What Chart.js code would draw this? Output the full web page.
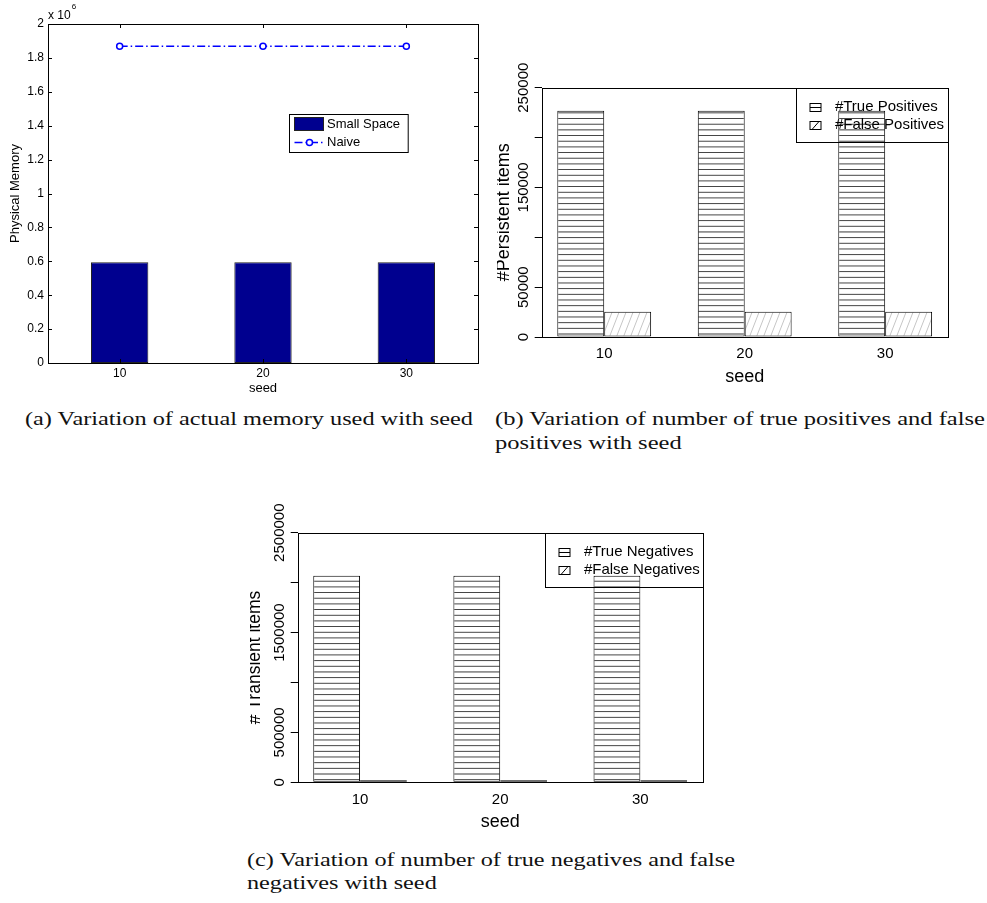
<!DOCTYPE html>
<html>
<head>
<meta charset="utf-8">
<script src="https://cdn.jsdelivr.net/npm/chart.js@4.4.1/dist/chart.umd.min.js"></script>
<style>
  body { margin: 0; background: #fff; width: 987px; height: 903px; position: relative; overflow: hidden; }
  canvas { position: absolute; }
  .cap { position: absolute; font-family: "Liberation Serif", serif; font-size: 18px; line-height: 18px; color: #111; white-space: nowrap; transform-origin: 0 0; }
</style>
</head>
<body>
<canvas id="chartA" width="490" height="400" style="left:0;top:0"></canvas>
<canvas id="chartB" width="490" height="340" style="left:497px;top:50px"></canvas>
<canvas id="chartC" width="470" height="345" style="left:250px;top:490px"></canvas>

<div class="cap" data-w="448" id="capA" style="left:25px;top:410px">(a) Variation of actual memory used with seed</div>
<div class="cap" data-w="490" id="capB" style="left:495px;top:410px">(b) Variation of number of true positives and false</div>
<div class="cap" data-follow="capB" style="left:495px;top:434px">positives with seed</div>
<div class="cap" data-w="488" id="capC" style="left:247px;top:851px">(c) Variation of number of true negatives and false</div>
<div class="cap" data-follow="capC" style="left:247px;top:874px">negatives with seed</div>

<script>
const seeds = [10, 20, 30];

// (a) physical memory
const memSmallSpace = [595000, 595000, 595000];
const memNaive = [1868000, 1868000, 1868000];

// (b) persistent items
const truePositives = [227000, 227000, 227000];
const falsePositives = [25400, 25400, 25400];
const persistentTickLabels = [0, 50000, 150000, 250000];

// (c) transient items
const trueNegatives = [2070000, 2070000, 2070000];
const falseNegatives = [7500, 7500, 7500];
const transientTickLabels = [0, 500000, 1500000, 2500000];

const NAVY = '#00008f';
const SANS = '"Liberation Sans", Arial, sans-serif';

Chart.defaults.font.family = SANS;
Chart.defaults.color = '#000';

const toPoints = (xs, ys) => xs.map((x, i) => ({ x, y: ys[i] }));

function makeTile(w, h, draw, scaleY) {
  const c = document.createElement('canvas');
  c.width = w; c.height = h;
  const g = c.getContext('2d');
  g.fillStyle = '#fff';
  g.fillRect(0, 0, w, h);
  draw(g);
  const p = g.createPattern(c, 'repeat');
  if (scaleY && p.setTransform) p.setTransform(new DOMMatrix().scale(1, scaleY));
  return p;
}

// horizontal lines about 5.7px apart
const horizHatch = makeTile(6, 6, g => {
  g.fillStyle = '#3a3a3a';
  g.fillRect(0, 0, 6, 1);
}, 0.945);

const diagHatch = makeTile(7, 18, g => {
  g.strokeStyle = '#c6c6c6';
  g.lineWidth = 1;
  g.beginPath();
  for (let k = -1; k <= 1; k++) { g.moveTo(k * 7, 18); g.lineTo((k + 1) * 7, 0); }
  g.stroke();
});

// box around the plot area
const plotBox = {
  id: 'plotBox',
  afterDatasetsDraw(chart) {
    const { ctx, chartArea: a } = chart;
    ctx.save();
    ctx.strokeStyle = '#000';
    ctx.lineWidth = 1;
    const l = Math.round(a.left) + 0.5, t = Math.round(a.top) + 0.5;
    ctx.strokeRect(l, t, Math.round(a.right) - Math.round(a.left), Math.round(a.bottom) - Math.round(a.top));
    ctx.restore();
  }
};

// matlab style ticks pointing inwards on all four sides
const inwardTicks = {
  id: 'inwardTicks',
  afterDatasetsDraw(chart, args, o) {
    const { ctx, chartArea: a, scales: { x, y } } = chart;
    const len = o.length;
    ctx.save();
    ctx.strokeStyle = '#000';
    ctx.lineWidth = 1;
    ctx.beginPath();
    x.ticks.forEach(t => {
      const px = Math.round(x.getPixelForValue(t.value)) + 0.5;
      ctx.moveTo(px, a.top); ctx.lineTo(px, a.top + len);
      ctx.moveTo(px, a.bottom); ctx.lineTo(px, a.bottom - len);
    });
    y.ticks.forEach(t => {
      const py = Math.round(y.getPixelForValue(t.value)) + 0.5;
      ctx.moveTo(a.left, py); ctx.lineTo(a.left + len, py);
      ctx.moveTo(a.right, py); ctx.lineTo(a.right - len, py);
    });
    ctx.stroke();
    ctx.restore();
  }
};

const expLabel = {
  id: 'expLabel',
  afterDraw(chart, args, o) {
    const { ctx, chartArea: a } = chart;
    ctx.save();
    ctx.fillStyle = '#000';
    ctx.textBaseline = 'middle';
    ctx.font = '12px ' + SANS;
    ctx.fillText(o.base, a.left, a.top - 8);
    const w = ctx.measureText(o.base).width;
    ctx.font = '8px ' + SANS;
    ctx.fillText(o.power, a.left + w + 1, a.top - 17);
    ctx.restore();
  }
};

const matlabLegend = {
  id: 'matlabLegend',
  afterDatasetsDraw(chart, args, o) {
    const { ctx, chartArea: a } = chart;
    const [bars, line] = chart.data.datasets;
    const left = Math.round(a.left + o.fx * (a.right - a.left)) + 0.5;
    const top = Math.round(a.top + o.fy * (a.bottom - a.top)) + 0.5;
    ctx.save();
    ctx.fillStyle = '#fff';
    ctx.fillRect(left, top, o.w, o.h);
    ctx.strokeStyle = '#000';
    ctx.lineWidth = 1;
    ctx.strokeRect(left, top, o.w, o.h);

    ctx.fillStyle = bars.backgroundColor;
    ctx.fillRect(left + 5, top + 3, 29, 13);
    ctx.strokeStyle = '#222';
    ctx.strokeRect(left + 5, top + 3, 29, 13);

    ctx.strokeStyle = line.borderColor;
    ctx.lineWidth = line.borderWidth;
    ctx.setLineDash(line.borderDash);
    ctx.beginPath();
    ctx.moveTo(left + 5, top + 28); ctx.lineTo(left + 34, top + 28);
    ctx.stroke();
    ctx.setLineDash([]);
    ctx.beginPath();
    ctx.arc(left + 20, top + 28, 3, 0, Math.PI * 2);
    ctx.fillStyle = '#fff';
    ctx.fill();
    ctx.stroke();

    ctx.fillStyle = '#000';
    ctx.font = '13px ' + SANS;
    ctx.textBaseline = 'middle';
    ctx.fillText(bars.label, left + 37.5, top + 10);
    ctx.fillText(line.label, left + 37.5, top + 28);
    ctx.restore();
  }
};

// R style: y tick labels turned 90 degrees
const rotatedYTicks = {
  id: 'rotatedYTicks',
  afterDraw(chart, args, o) {
    const { ctx, chartArea: a, scales: { y } } = chart;
    ctx.save();
    ctx.fillStyle = '#000';
    ctx.font = o.size + 'px ' + SANS;
    ctx.textAlign = 'center';
    ctx.textBaseline = 'middle';
    y.ticks.forEach(t => {
      if (!t.label) return;
      ctx.save();
      ctx.translate(a.left - o.offset, y.getPixelForValue(t.value));
      ctx.rotate(-Math.PI / 2);
      ctx.fillText(t.label, 0, 0);
      ctx.restore();
    });
    ctx.restore();
  }
};

// R style legend, no fill, top right corner of the plot
const rLegend = {
  id: 'rLegend',
  afterDatasetsDraw(chart, args, o) {
    const { ctx, chartArea: a } = chart;
    const sets = chart.data.datasets;
    ctx.save();
    ctx.font = '15px ' + SANS;
    const textW = Math.max(...sets.map(d => ctx.measureText(d.label).width));
    const w = Math.round(o.textX + textW + o.padRight);
    const left = Math.round(a.right) - w + 0.5, top = Math.round(a.top) + 0.5;
    ctx.strokeStyle = '#000';
    ctx.lineWidth = 1;
    ctx.strokeRect(left, top, w, o.height);
    sets.forEach((d, i) => {
      const cy = top + o.rows[i];
      const sx = left + o.symX, sy = Math.round(cy - 4) + 0.5;
      ctx.strokeStyle = '#000';
      ctx.strokeRect(sx, sy, 11, 8);
      ctx.beginPath();
      if (d.hatch === 'h') { ctx.moveTo(sx, sy + 4); ctx.lineTo(sx + 11, sy + 4); }
      else { ctx.moveTo(sx + 2, sy + 8); ctx.lineTo(sx + 9, sy); }
      ctx.stroke();
      ctx.fillStyle = '#000';
      ctx.textBaseline = 'middle';
      ctx.fillText(d.label, left + o.textX, cy);
    });
    ctx.restore();
  }
};

// (a)
new Chart(document.getElementById('chartA'), {
  type: 'bar',
  data: {
    datasets: [
      {
        type: 'bar', label: 'Small Space', data: toPoints(seeds, memSmallSpace),
        backgroundColor: NAVY, borderColor: '#222', borderWidth: 1, borderSkipped: false,
        categoryPercentage: 1, barPercentage: 0.4, order: 2
      },
      {
        type: 'line', label: 'Naive', data: toPoints(seeds, memNaive),
        borderColor: '#0000ff', borderWidth: 1.5, borderDash: [8, 3, 1.5, 3],
        pointRadius: 3, pointBorderWidth: 1.5, pointBackgroundColor: '#fff', pointBorderColor: '#0000ff',
        fill: false, tension: 0, order: 1
      }
    ]
  },
  options: {
    responsive: false,
    animation: false,
    layout: { padding: { left: 0, right: 12, top: 24, bottom: 0 } },
    scales: {
      x: {
        type: 'linear', min: 5, max: 35, offset: false,
        afterBuildTicks: s => { s.ticks = seeds.map(v => ({ value: v })); },
        afterFit: s => { s.height = 37; },
        grid: { display: false, drawTicks: false },
        border: { display: false },
        ticks: { padding: 3.8, font: { size: 12 }, color: '#000' },
        title: { display: true, text: 'seed', font: { size: 13 }, color: '#000', padding: { top: 0, bottom: 4.2 } }
      },
      y: {
        min: 0, max: 2000000,
        afterFit: s => { s.width = 48; },
        grid: { display: false, drawTicks: false },
        border: { display: false },
        ticks: { stepSize: 200000, padding: 4, font: { size: 12 }, color: '#000', callback: v => String(+(v / 1e6).toFixed(1)) },
        title: { display: true, text: 'Physical Memory', font: { size: 13 }, color: '#000', padding: { top: 7.2, bottom: 0 } }
      }
    },
    plugins: {
      legend: { display: false },
      tooltip: { enabled: false },
      inwardTicks: { length: 4 },
      expLabel: { base: 'x 10', power: '6' },
      matlabLegend: { fx: 0.5605, fy: 0.2664, w: 118.7, h: 38 }
    }
  },
  plugins: [plotBox, inwardTicks, matlabLegend, expLabel]
});

// (b) and (c) share the R barplot look
function makeRChart(id, cfg) {
  const barStyle = { borderColor: '#000', borderWidth: 1, borderSkipped: false, categoryPercentage: 0.668, barPercentage: 1, minBarLength: 2 };
  return new Chart(document.getElementById(id), {
    type: 'bar',
    data: {
      datasets: [
        { label: cfg.labels[0], data: toPoints(seeds, cfg.first), backgroundColor: horizHatch, hatch: 'h', ...barStyle },
        { label: cfg.labels[1], data: toPoints(seeds, cfg.second), backgroundColor: diagHatch, hatch: 'd', ...barStyle }
      ]
    },
    options: {
      responsive: false,
      animation: false,
      layout: { padding: { left: 0, right: cfg.padRight, top: cfg.padTop, bottom: 0 } },
      scales: {
        x: {
          type: 'linear', min: seeds[0] - 4.45, max: seeds[seeds.length - 1] + 4.45, offset: false,
          afterBuildTicks: s => { s.ticks = seeds.map(v => ({ value: v })); },
          afterFit: s => { s.height = cfg.xHeight; },
          grid: { display: false, drawTicks: false },
          border: { display: false },
          ticks: { padding: cfg.xTickPad, font: { size: 15 }, color: '#000' },
          title: { display: true, text: 'seed', font: { size: 18 }, color: '#000', padding: { top: 0, bottom: cfg.xTitlePad } }
        },
        y: {
          min: 0, max: cfg.yMax,
          afterFit: s => { s.width = cfg.yWidth; },
          grid: { display: true, drawOnChartArea: false, drawTicks: true, tickLength: 7, color: '#000', lineWidth: 1 },
          border: { display: false },
          ticks: { display: false, stepSize: cfg.yStep, callback: v => cfg.shown.includes(v) ? String(v) : '' },
          title: { display: true, text: cfg.yTitle, font: { size: cfg.yTitleSize, lineHeight: cfg.yTitleLH }, color: '#000', padding: 0 }
        }
      },
      plugins: {
        legend: { display: false },
        tooltip: { enabled: false },
        rotatedYTicks: { size: 15, offset: 18 },
        rLegend: { textX: 38.4, padRight: 4, height: 54, rows: [18, 36.3], symX: 13.5 }
      }
    },
    plugins: [plotBox, rLegend, rotatedYTicks]
  });
}

makeRChart('chartB', {
  first: truePositives, second: falsePositives,
  labels: ['#True Positives', '#False Positives'],
  yMax: 250000, yStep: 50000, shown: persistentTickLabels,
  yTitle: '#Persistent items', yTitleSize: 18, yTitleLH: 15 / 18,
  padTop: 37.7, padRight: 490 - 450.7, yWidth: 44.7, xHeight: 53, xTickPad: 8, xTitlePad: 2.2
});

makeRChart('chartC', {
  first: trueNegatives, second: falseNegatives,
  labels: ['#True Negatives', '#False Negatives'],
  yMax: 2500000, yStep: 500000, shown: transientTickLabels,
  yTitle: '# Transient items', yTitleSize: 17.5, yTitleLH: 11 / 17.5,
  padTop: 42.7, padRight: 470 - 452.7, yWidth: 47.7, xHeight: 52.7, xTickPad: 8.3, xTitlePad: 2.5
});

// stretch captions to the printed widths
document.querySelectorAll('.cap[data-w]').forEach(el => {
  const k = +el.dataset.w / el.getBoundingClientRect().width;
  el.dataset.k = k;
  el.style.transform = `scaleX(${k})`;
});
document.querySelectorAll('.cap[data-follow]').forEach(el => {
  const k = document.getElementById(el.dataset.follow).dataset.k;
  el.style.transform = `scaleX(${k})`;
});
</script>
</body>
</html>
